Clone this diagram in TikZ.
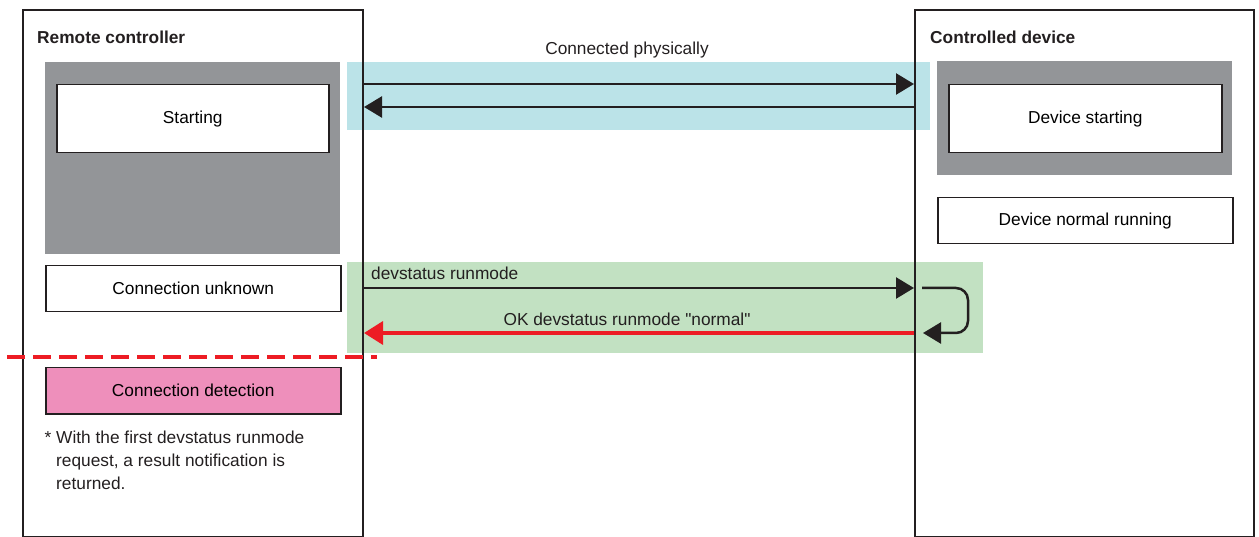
\documentclass[tikz,border=0pt]{standalone}
\usepackage{fontspec}
\setmainfont{Liberation Sans}
\usetikzlibrary{arrows.meta}
\definecolor{ink}{HTML}{231F20}
\definecolor{boxgray}{HTML}{939598}
\definecolor{linkcyan}{HTML}{BBE3E8}
\definecolor{reqgreen}{HTML}{C2E1C2}
\definecolor{detpink}{HTML}{EE8FBB}
\definecolor{respred}{HTML}{ED1C24}
% straight quote, no tex-text mapping
\font\qtfont="Liberation Sans" at 17.3pt
\newcommand{\dq}{{\qtfont"}}

\tikzset{
  frame/.style={draw=ink, line width=2pt, anchor=north west, inner sep=0pt},
  state/.style={draw=ink, line width=1.5pt, fill=white, anchor=north west, inner sep=0pt},
  band/.style={anchor=north west, inner sep=0pt},
  msg/.style={draw=ink, line width=2.5pt, -{Triangle[length=18pt,width=21pt]}},
  reply/.style={draw=respred, line width=3.5pt, -{Triangle[length=19pt,width=23pt]}},
  label/.style={inner sep=0pt, text=ink}
}

\begin{document}
\begin{tikzpicture}[x=1pt, y=-1pt, font=\fontsize{17.3}{23}\selectfont]
    \useasboundingbox (0,0) rectangle (1259,537);

    % coloured bands behind the messages
    \node [band, fill=linkcyan, minimum width=583pt, minimum height=68pt] (link) at (347,62) {};
    \node [band, fill=reqgreen, minimum width=636pt, minimum height=91pt] (req) at (347,262) {};

    % the two sides
    \node [frame, minimum width=340pt, minimum height=527pt] (rc) at (22,9) {};
    \node [frame, minimum width=339pt, minimum height=527pt] (cd) at (914,9) {};
    \node [label, anchor=base west, font=\fontsize{17.3}{23}\selectfont\bfseries] (rctitle) at (37,44) {Remote controller};
    \node [label, anchor=base west, font=\fontsize{17.3}{23}\selectfont\bfseries] (cdtitle) at (930,44) {Controlled device};

    % remote controller states
    \node [band, fill=boxgray, minimum width=295pt, minimum height=192pt] (rcgray) at (45,62) {};
    \node [state, minimum width=272pt, minimum height=68pt] (start) at (56,84) {Starting};
    \node [state, minimum width=295pt, minimum height=46pt] (unknown) at (45,265) {Connection unknown};
    \node [state, fill=detpink, minimum width=295pt, minimum height=46pt] (detect) at (45,367) {Connection detection};
    \node [label, anchor=north west, align=left] (note) at (56,430.5)
      {\llap{* }With the first devstatus runmode\\request, a result notification is\\returned.};

    % controlled device states
    \node [band, fill=boxgray, minimum width=295pt, minimum height=114pt] (cdgray) at (937,61) {};
    \node [state, minimum width=273pt, minimum height=68pt] (devstart) at (948,84) {Device starting};
    \node [state, minimum width=295pt, minimum height=46pt] (normal) at (937,197) {Device normal running};

    % messages
    \coordinate (a1) at (rc.east |- 0,84);   \coordinate (b1) at (cd.west |- 0,84);
    \coordinate (a2) at (rc.east |- 0,107);  \coordinate (b2) at (cd.west |- 0,107);
    \coordinate (a3) at (rc.east |- 0,288);  \coordinate (b3) at (cd.west |- 0,288);
    \coordinate (a4) at (rc.east |- 0,333);  \coordinate (b4) at (cd.west |- 0,333);

    \node [label, anchor=base] (physlbl) at (627,55) {Connected physically};
    \draw [msg] (a1) -- (b1);
    \draw [msg] (b2) -- (a2);

    \node [label, anchor=base west] (reqlbl) at (371,280) {devstatus runmode};
    \draw [msg] (a3) -- (b3);
    \draw [msg, rounded corners=12pt] ([xshift=8pt]b3) -- ++(46,0) |- ([xshift=9pt]b4);
    \node [label, anchor=base] (replbl) at (627,325.5) {OK devstatus runmode \dq normal\dq};
    \draw [reply] (b4) -- (a4);

    % detection boundary
    \coordinate (d1) at (7,357);
    \coordinate (d2) at (377,357);
    \draw [respred, line width=4pt, dash pattern=on 18pt off 8pt] (d1) -- (d2);
  \end{tikzpicture}
\end{document}
